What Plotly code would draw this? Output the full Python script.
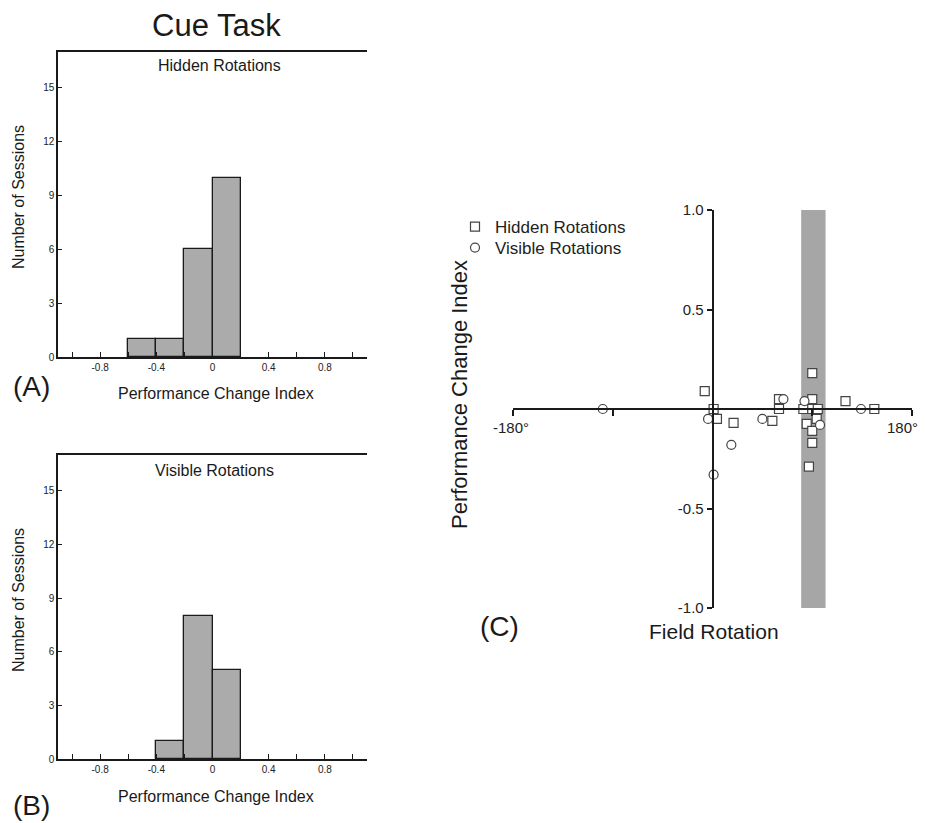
import plotly.graph_objects as go

W, H = 929, 823
OFF = 8  # page body offset of the plot div

# ---------------- data ----------------
bin_left_edges_hidden = [-0.6, -0.4, -0.2, 0.0]
counts_hidden = [1, 1, 6, 10]
bin_left_edges_visible = [-0.4, -0.2, 0.0]
counts_visible = [1, 8, 5]
bin_width = 0.2

hist_x_tickvals = [-1.0, -0.8, -0.6, -0.4, -0.2, 0.0, 0.2, 0.4, 0.6, 0.8, 1.0]
hist_x_ticktext = ["", "-0.8", "", "-0.4", "", "0", "", "0.4", "", "0.8", ""]
hist_y_tickvals = [0, 3, 6, 9, 12, 15]

hidden_rot = [-7, 1, 4, 19, 54, 60, 60, 82, 90, 90, 90, 95, 94, 85, 90, 90, 87, 120, 146]
hidden_pci = [0.09, 0.0, -0.05, -0.07, -0.06, 0.05, 0.0, 0.0, 0.18, 0.05, 0.0, 0.0,
              -0.05, -0.075, -0.11, -0.17, -0.29, 0.04, 0.0]
visible_rot = [-99, -4, 17, 1, 45, 64, 83, 97, 134]
visible_pci = [0.0, -0.05, -0.18, -0.33, -0.05, 0.05, 0.04, -0.08, 0.0]

band_rot = [80, 102]
c_y_tickvals = [-1.0, -0.5, 0.5, 1.0]
c_y_ticktext = ["-1.0", "-0.5", "0.5", "1.0"]
c_x_tickvals = [-180, -90, 90, 180]
c_x_end_labels = ["-180°", "180°"]

FONT = "Arial, Liberation Sans, sans-serif"
BAR_FILL = "#ababab"
INK = "#1a1a1a"


def px_x(p):
    return (p - OFF) / W


def px_y(p):
    return 1 - (p - OFF) / H


fig = go.Figure()

fig.add_trace(go.Bar(
    x=[e + bin_width / 2 for e in bin_left_edges_hidden], y=counts_hidden,
    width=bin_width, marker=dict(color=BAR_FILL, line=dict(color=INK, width=1.3)),
    xaxis="x", yaxis="y", showlegend=False))
fig.add_trace(go.Bar(
    x=[e + bin_width / 2 for e in bin_left_edges_visible], y=counts_visible,
    width=bin_width, marker=dict(color=BAR_FILL, line=dict(color=INK, width=1.3)),
    xaxis="x2", yaxis="y2", showlegend=False))

fig.add_trace(go.Scatter(
    x=hidden_rot, y=hidden_pci, mode="markers", name="Hidden Rotations",
    marker=dict(symbol="square", size=9, color="white", line=dict(color="#444", width=1.2)),
    xaxis="x3", yaxis="y3", legend="legend"))
fig.add_trace(go.Scatter(
    x=visible_rot, y=visible_pci, mode="markers", name="Visible Rotations",
    marker=dict(symbol="circle", size=9, color="white", line=dict(color="#444", width=1.2)),
    xaxis="x3", yaxis="y3", legend="legend2"))

hist_x_common = dict(
    range=[-1.1, 1.1], tickvals=hist_x_tickvals, ticktext=hist_x_ticktext,
    ticks="inside", ticklen=5, tickcolor=INK, showline=True, linecolor=INK, linewidth=1.5,
    mirror=True, showgrid=False, zeroline=False, automargin=False,
    tickfont=dict(family=FONT, size=10, color="#222"))
hist_y_common = dict(
    range=[0, 17], tickvals=hist_y_tickvals, ticks="inside", ticklen=4, tickcolor=INK,
    showline=True, linecolor=INK, linewidth=1.5, showgrid=False, zeroline=False,
    automargin=False, tickfont=dict(family=FONT, size=10, color="#222"))

xdom_hist = [px_x(58), px_x(367)]

legend_common = dict(xanchor="left", yanchor="middle", bgcolor="rgba(0,0,0,0)",
                     borderwidth=0, font=dict(family=FONT, size=17, color="#222"))

fig.update_layout(
    width=W, height=H, margin=dict(l=0, r=0, t=0, b=0, pad=0, autoexpand=False),
    paper_bgcolor="white", plot_bgcolor="rgba(0,0,0,0)",
    font=dict(family=FONT, color=INK),
    bargap=0,
    xaxis=dict(domain=xdom_hist, anchor="y", **hist_x_common),
    yaxis=dict(domain=[px_y(357), px_y(52)], anchor="x", **hist_y_common),
    xaxis2=dict(domain=xdom_hist, anchor="y2", **hist_x_common),
    yaxis2=dict(domain=[px_y(759), px_y(455)], anchor="x2", **hist_y_common),
    xaxis3=dict(domain=[px_x(513), px_x(912)], range=[-180, 180], anchor="free",
                position=px_y(409), showline=True, linecolor=INK, linewidth=1.6,
                tickvals=c_x_tickvals, showticklabels=False, ticks="outside", ticklen=6,
                tickcolor=INK, tickwidth=1.5, showgrid=False, zeroline=False,
                automargin=False),
    yaxis3=dict(domain=[px_y(608), px_y(210)], range=[-1, 1], anchor="free",
                position=px_x(712.5), showline=True, linecolor=INK, linewidth=1.6,
                tickvals=c_y_tickvals, ticktext=c_y_ticktext, ticks="outside", ticklen=5,
                tickcolor=INK, tickwidth=1.5, showgrid=False, zeroline=False,
                automargin=False, tickfont=dict(family=FONT, size=15, color="#222")),
    legend=dict(x=px_x(455), y=px_y(227), **legend_common),
    legend2=dict(x=px_x(455), y=px_y(248), **legend_common),
    shapes=[dict(type="rect", xref="x3", yref="y3", x0=band_rot[0], x1=band_rot[1],
                 y0=-1, y1=1, fillcolor="#a6a6a6", line=dict(width=0), layer="below")],
)

ann = []


def add_text(text, x, y, size, angle=0, xanchor="center"):
    ann.append(dict(text=text, x=px_x(x), y=px_y(y), xref="paper", yref="paper",
                    showarrow=False, xanchor=xanchor, yanchor="middle", textangle=angle,
                    font=dict(family=FONT, size=size, color=INK)))


add_text("Cue Task", 216, 25, 31)
add_text("Hidden Rotations", 219, 66, 16)
add_text("Visible Rotations", 214, 470, 16)
add_text("Number of Sessions", 18, 197, 16, angle=-90)
add_text("Number of Sessions", 18, 600, 16, angle=-90)
add_text("Performance Change Index", 216, 393, 16)
add_text("Performance Change Index", 216, 796, 16)
add_text("(A)", 31, 386, 28)
add_text("(B)", 31, 805, 28)
add_text("Performance Change Index", 460, 395, 22, angle=-90)
add_text("Field Rotation", 714, 631, 21)
add_text("(C)", 499, 626, 28)

# end labels of the rotation axis, placed at the axis ends
for val, lab in zip([c_x_tickvals[0], c_x_tickvals[-1]], c_x_end_labels):
    ann.append(dict(text=lab, x=val, y=0, xref="x3", yref="y3", showarrow=False,
                    xanchor="center" if val < 0 else "right", yanchor="top",
                    xshift=-2 if val < 0 else 8, yshift=-8,
                    font=dict(family=FONT, size=15, color="#222")))

fig.update_layout(annotations=ann)

fig.write_html("out.html")
